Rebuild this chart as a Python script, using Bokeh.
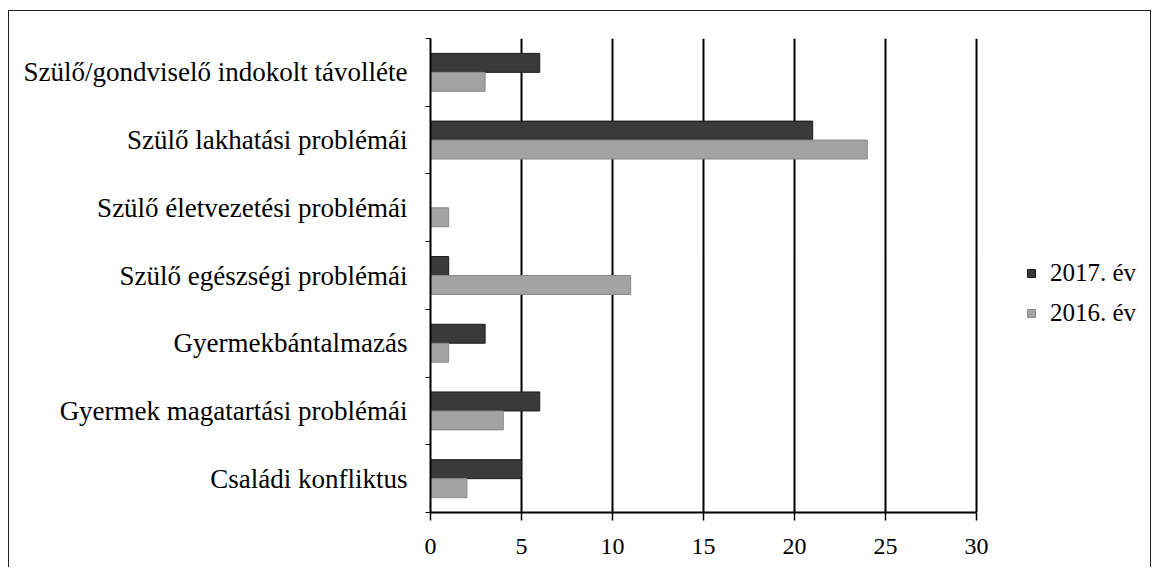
from bokeh.plotting import figure
from bokeh.models import FixedTicker, Legend, LegendItem, Range1d, ColumnDataSource
from bokeh.transform import dodge
from bokeh.embed import file_html
from bokeh.resources import INLINE

categories = [
    "Szülő/gondviselő indokolt távolléte",
    "Szülő lakhatási problémái",
    "Szülő életvezetési problémái",
    "Szülő egészségi problémái",
    "Gyermekbántalmazás",
    "Gyermek magatartási problémái",
    "Családi konfliktus",
]
values_2017 = [6, 21, 0, 1, 3, 6, 5]
values_2016 = [3, 24, 1, 11, 1, 4, 2]
series_labels = ["2017. év", "2016. év"]
x_ticks = [0, 5, 10, 15, 20, 25, 30]

FONT = "Liberation Serif"
n = len(categories)
pos = [n - 1 - i + 0.5 for i in range(n)]

src = ColumnDataSource(dict(y=pos, v2017=values_2017, v2016=values_2016))

# plotting area spans to the right edge so the legend can sit beside the axis range
AXIS_PX = 546          # pixel length of the 0..30 axis
FRAME_W = 722          # frame width including legend space
x_end = x_ticks[-1] * FRAME_W / AXIS_PX

p = figure(
    width=1143, height=557,
    x_range=Range1d(0, x_end), y_range=Range1d(0, n),
    output_backend="svg", toolbar_location=None,
    min_border_left=421, min_border_right=0,
    min_border_top=27, min_border_bottom=56,
    outline_line_color=None,
    background_fill_color="white", border_fill_color="white",
    styles={"margin-left": "8px", "margin-top": "10px",
            "border-left": "1px solid #222", "border-top": "1px solid #222",
            "border-right": "1px solid #222"},
)

bh = 0.28
r17 = p.hbar(y=dodge("y", bh / 2, range=p.y_range), left=0, right="v2017", height=bh,
             source=src, fill_color="#3a3a3a", line_color="#1a1a1a", line_width=1)
r16 = p.hbar(y=dodge("y", -bh / 2, range=p.y_range), left=0, right="v2016", height=bh,
             source=src, fill_color="#a3a3a3", line_color="#8a8a8a", line_width=1)

# x axis
p.xaxis.ticker = FixedTicker(ticks=x_ticks)
p.xaxis.bounds = (x_ticks[0], x_ticks[-1])
p.xaxis.axis_line_color = "black"
p.xaxis.axis_line_width = 2
p.xaxis.major_tick_line_color = "black"
p.xaxis.major_tick_line_width = 1.5
p.xaxis.major_tick_out = 8
p.xaxis.major_tick_in = 0
p.xaxis.minor_tick_line_color = None
p.xaxis.major_label_text_font = FONT
p.xaxis.major_label_text_font_size = "24px"
p.xaxis.major_label_text_color = "black"
p.xaxis.major_label_standoff = 18

# y axis: labels at category centres, ticks at category boundaries
p.yaxis.ticker = FixedTicker(ticks=pos, minor_ticks=list(range(n + 1)))
p.yaxis.major_label_overrides = {v: c for v, c in zip(pos, categories)}
p.yaxis.axis_line_color = "black"
p.yaxis.axis_line_width = 2
p.yaxis.major_tick_line_color = None
p.yaxis.major_tick_out = 0
p.yaxis.major_tick_in = 0
p.yaxis.minor_tick_line_color = "black"
p.yaxis.minor_tick_out = 5
p.yaxis.minor_tick_in = 0
p.yaxis.major_label_text_font = FONT
p.yaxis.major_label_text_font_size = "27px"
p.yaxis.major_label_text_color = "black"
p.yaxis.major_label_standoff = 18

# grid
p.xgrid.ticker = FixedTicker(ticks=x_ticks)
p.xgrid.grid_line_color = "black"
p.xgrid.grid_line_width = 2
p.ygrid.grid_line_color = None

legend = Legend(
    items=[LegendItem(label=series_labels[0], renderers=[r17]),
           LegendItem(label=series_labels[1], renderers=[r16])],
    location=(596, 185),
    glyph_width=10, glyph_height=10,
    label_text_font=FONT, label_text_font_size="25px", label_text_color="black",
    label_standoff=14, spacing=12, padding=4,
    border_line_color=None, background_fill_alpha=0,
)
p.add_layout(legend, "center")

open("out.html", "w").write(file_html(p, INLINE))
